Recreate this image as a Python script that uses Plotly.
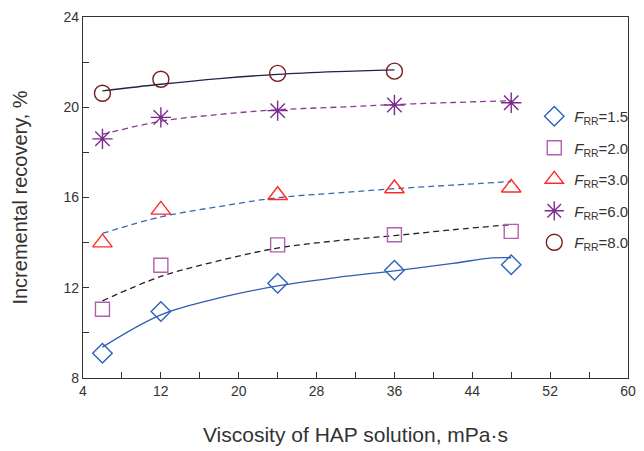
import plotly.graph_objects as go

# Measured points
visc = [6, 12, 24, 36, 48]
visc80 = [6, 12, 24, 36]
r15 = [9.1, 10.95, 12.2, 12.78, 13.02]
r20 = [11.05, 13.0, 13.9, 14.35, 14.5]
r30 = [14.0, 15.45, 16.1, 16.4, 16.43]
r60 = [18.6, 19.55, 19.85, 20.1, 20.2]
r80 = [20.62, 21.24, 21.5, 21.6]

# Trend curves
cx = [6, 12, 18, 24, 30, 36, 42, 46, 48]
c15 = [9.37, 10.8, 11.55, 12.08, 12.45, 12.75, 13.08, 13.32, 13.33]
cx2 = [6, 12, 18, 24, 30, 36, 42, 48]
c20 = [11.42, 12.5, 13.2, 13.76, 14.08, 14.31, 14.57, 14.8]
c30 = [14.41, 15.14, 15.6, 15.99, 16.2, 16.39, 16.55, 16.71]
c60 = [18.8, 19.38, 19.68, 19.89, 20.0, 20.12, 20.21, 20.29]
cx80 = [6, 12, 18, 24, 30, 36]
c80 = [20.73, 21.02, 21.27, 21.46, 21.58, 21.66]

xticks = [4, 12, 20, 28, 36, 44, 52, 60]
yticks = [8, 12, 16, 20, 24]

fig = go.Figure()

def curve(x, y, color, dash):
    fig.add_trace(go.Scatter(x=x, y=y, mode="lines", line=dict(color=color, width=1.3, dash=dash, shape="spline"),
                             showlegend=False, hoverinfo="skip"))

curve(cx, c15, "#2F5DB0", "solid")
curve(cx2, c20, "#222222", "6px,4px")
curve(cx2, c30, "#3A66B5", "6px,4px")
curve(cx2, c60, "#8A3A96", "6px,4px")
curve(cx80, c80, "#22224E", "solid")

def pts(x, y, name, symbol, color, size, grp, legend=True):
    fig.add_trace(go.Scatter(x=x, y=y, mode="markers", name=name, legendgroup=grp, showlegend=legend,
                             marker=dict(symbol=symbol, size=size, color=color,
                                         line=dict(color=color, width=1.4))))

pts(visc, r15, "<i>F</i><sub>RR</sub>=1.5", "diamond-open", "#2E63B8", 15, "a")
pts(visc, r20, "<i>F</i><sub>RR</sub>=2.0", "square-open", "#B060B0", 14, "b")
pts(visc, r30, "<i>F</i><sub>RR</sub>=3.0", "triangle-up-open", "#FF2A2A", 17, "c")
pts(visc, r60, "<i>F</i><sub>RR</sub>=6.0", "asterisk-open", "#7B2D8E", 17, "d")
pts(visc80, r80, "<i>F</i><sub>RR</sub>=8.0", "circle-open", "#7A1F1F", 16, "e")

font = "Liberation Sans, Arial, sans-serif"
fig.update_layout(
    width=644, height=451,
    margin=dict(l=83, r=8, t=17, b=69),
    paper_bgcolor="white", plot_bgcolor="white",
    font=dict(family=font, color="#333333", size=14),
    legend=dict(x=0.828, y=0.77, xanchor="left", yanchor="top", bgcolor="rgba(0,0,0,0)",
                font=dict(size=15, color="#333333"), tracegroupgap=9, itemsizing="trace"),
    xaxis=dict(range=[4, 60], tickvals=xticks, ticktext=[str(v) for v in xticks],
               ticks="inside", ticklen=6, tickcolor="#333", showgrid=False, zeroline=False,
               showline=True, linecolor="#333", linewidth=1.2, mirror=True,
               minor=dict(dtick=4, tick0=4, ticks="inside", ticklen=6, tickcolor="#333", showgrid=False),
               title=dict(text="Viscosity of HAP solution, mPa·s", font=dict(size=21, color="#333"), standoff=29),
               tickfont=dict(size=14)),
    yaxis=dict(range=[8, 24], tickvals=yticks, ticktext=[str(v) for v in yticks],
               ticks="inside", ticklen=6, tickcolor="#333", showgrid=False, zeroline=False,
               showline=True, linecolor="#333", linewidth=1.2, mirror=True,
               minor=dict(dtick=2, tick0=8, ticks="inside", ticklen=6, tickcolor="#333", showgrid=False),
               title=dict(text="Incremental recovery, %", font=dict(size=20, color="#333"), standoff=30),
               tickfont=dict(size=14)),
)

fig.write_html("out.html", config={"displayModeBar": False},
               post_script="document.body.style.margin='0';")
